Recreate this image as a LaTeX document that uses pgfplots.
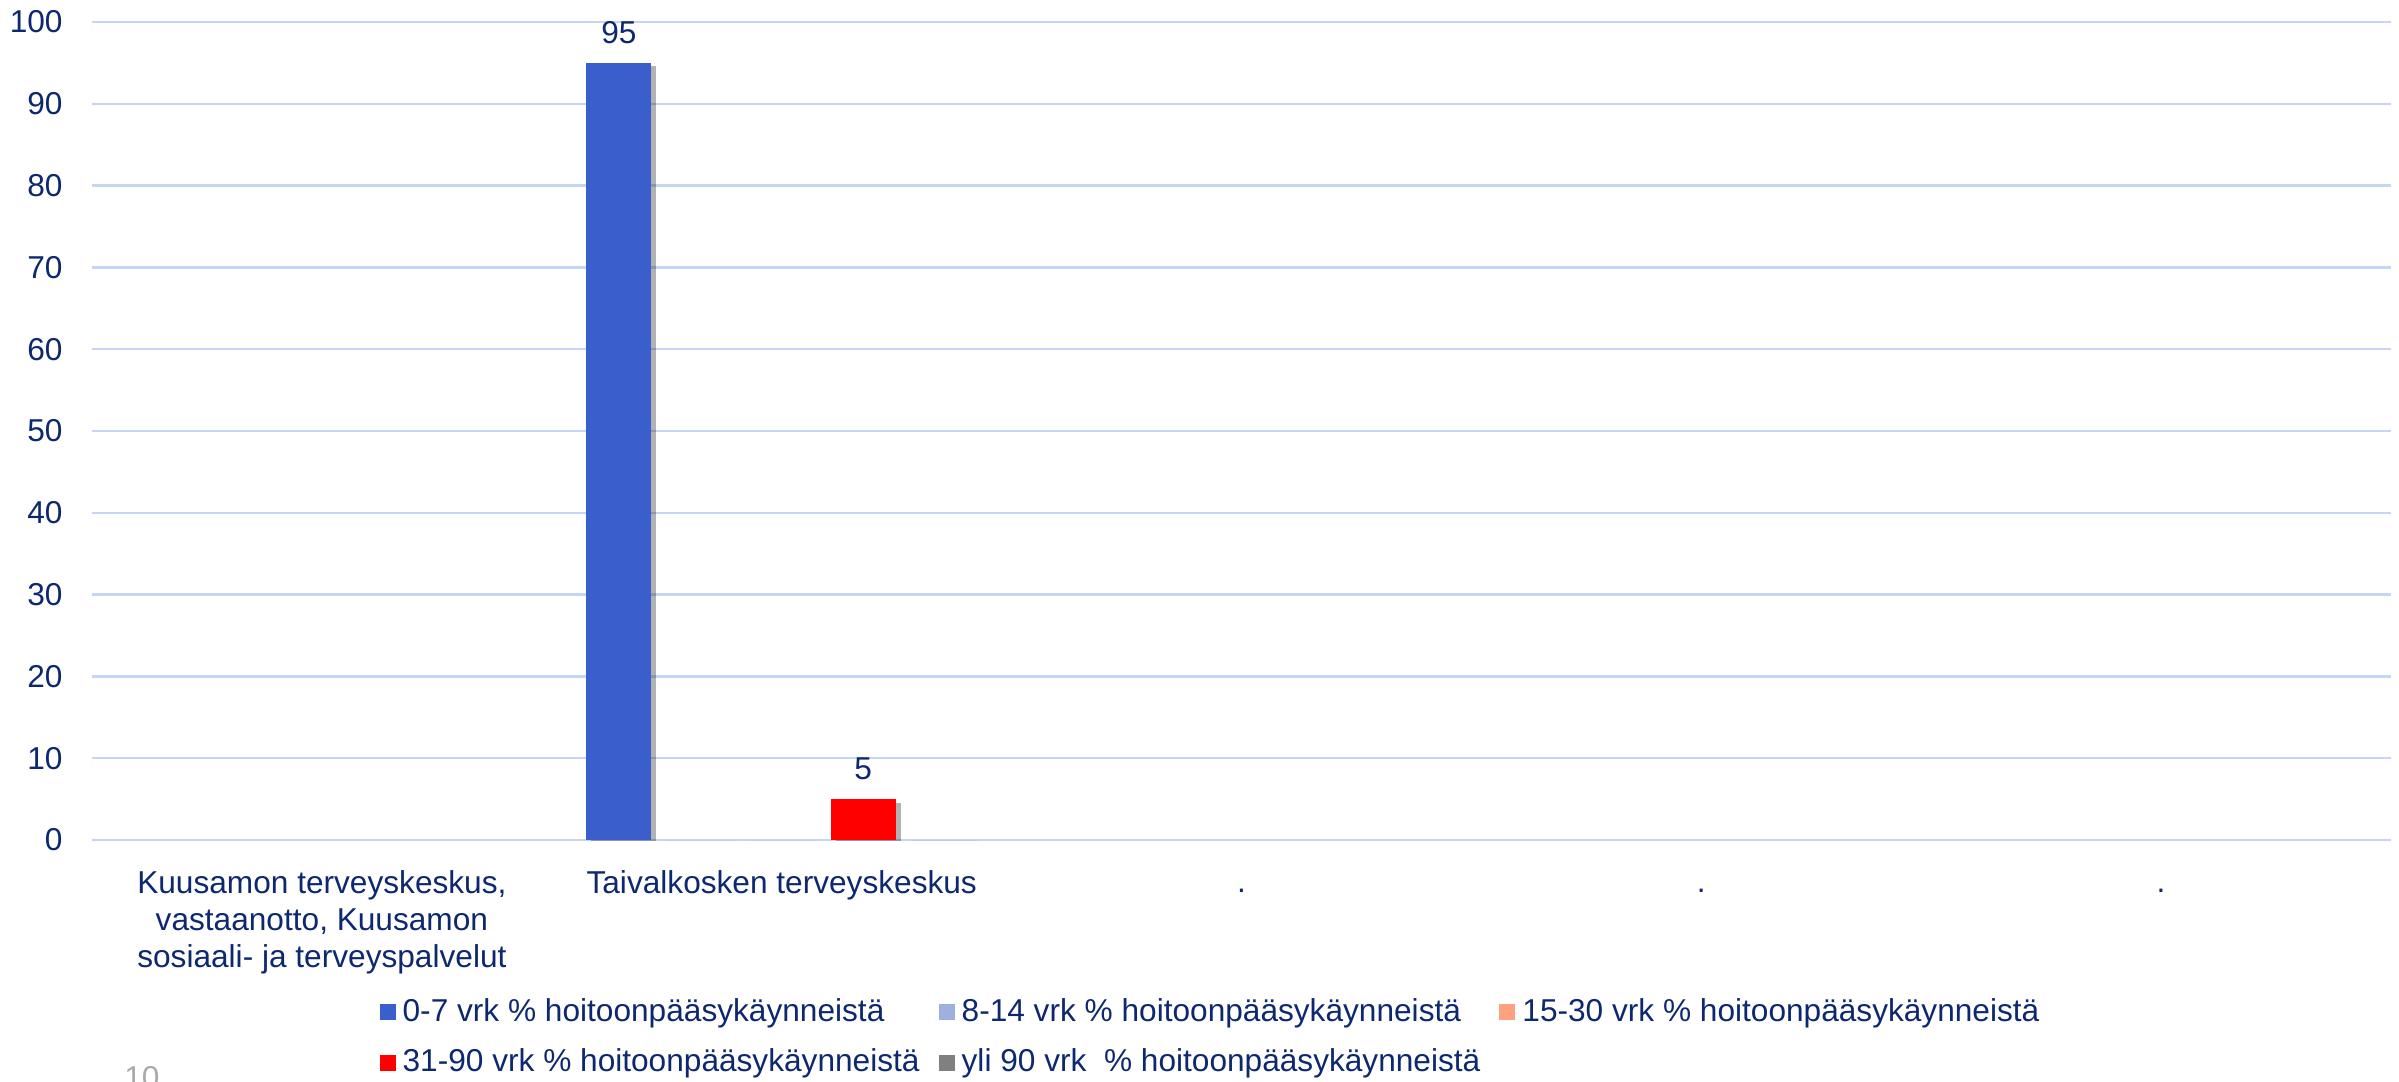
\documentclass[border=0pt]{standalone}
\usepackage{fontspec}
\setmainfont{Liberation Sans}
\usepackage{pgfplots}
\pgfplotsset{compat=1.18}
\usetikzlibrary{shadows}

\definecolor{txt}{RGB}{14,40,112}
\definecolor{gridc}{RGB}{198,213,244}
\definecolor{c1}{RGB}{58,95,205}
\definecolor{c2}{RGB}{158,176,224}
\definecolor{c3}{RGB}{255,160,128}
\definecolor{c4}{RGB}{255,0,0}
\definecolor{c5}{RGB}{128,128,128}
\definecolor{pg}{RGB}{170,170,170}

\tikzset{no preactions/.code={\expandafter\let\csname tikz@preactions\endcsname\relax\expandafter\def\csname tikz@preactions\endcsname{}}}

\begin{document}
\begin{tikzpicture}[font=\fontsize{9}{10.5}\selectfont]
\useasboundingbox (0,0) rectangle (23.99cm,10.81cm);
\begin{axis}[
  at={(0.92cm,2.41cm)}, anchor=south west,
  scale only axis, width=22.99cm, height=8.18cm,
  ybar=1.64mm, bar width=6.5mm,
  xmin=-0.5, xmax=4.5, ymin=0, ymax=100,
  xtick={0,...,4},
  xticklabels={{Kuusamon terveyskeskus,\\vastaanotto, Kuusamon\\sosiaali- ja terveyspalvelut},
    Taivalkosken terveyskeskus,\vphantom{Ky}.,\vphantom{Ky}.,\vphantom{Ky}.},
  xticklabel style={align=center, text=txt, yshift=-1.8mm},
  ytick={0,10,...,100},
  yticklabel style={text=txt, xshift=-1.7mm},
  /pgf/number format/assume math mode=true,
  ymajorgrids, grid style={gridc, line width=0.7pt},
  axis line style={draw=none}, major tick length=0pt, tick style={draw=none},
  legend style={draw=none, fill=none, at={(axis description cs:0.1248,-0.184)},
    anchor=north west, text=txt, inner sep=0pt, row sep=0.8mm,
    /tikz/every even column/.append style={column sep=1.2mm}},
  legend columns=3, legend cell align=left,
  legend image code/.code={\fill[#1,draw=none,no preactions] (0mm,-0.8mm) rectangle (1.6mm,0.8mm);},
  nodes near coords style={text=txt, yshift=2pt},
  bar shadow/.style={drop shadow={shadow xshift=0.5mm, shadow yshift=-0.35mm, opacity=0.3, fill=black}},
]
% 0-7 vrk
\addplot[fill=c1, draw=none, bar shadow, nodes near coords] coordinates {(1,95)};
\addlegendentry{0-7 vrk \% hoitoonpääsykäynneistä}
% 8-14 vrk
\addplot[fill=c2, draw=none] coordinates {(1,0)};
\addlegendentry{8-14 vrk \% hoitoonpääsykäynneistä}
% 15-30 vrk
\addplot[fill=c3, draw=none] coordinates {(1,0)};
\addlegendentry{15-30 vrk \% hoitoonpääsykäynneistä}
% 31-90 vrk
\addplot[fill=c4, draw=none, bar shadow, nodes near coords] coordinates {(1,5)};
\addlegendentry{31-90 vrk \% hoitoonpääsykäynneistä}
% yli 90 vrk
\addplot[fill=c5, draw=none] coordinates {(1,0)};
\addlegendentry{yli 90 vrk\ \ \% hoitoonpääsykäynneistä}
\end{axis}
\node[anchor=north, text=pg, inner sep=0pt] at (1.42cm,0.15cm) {10};
\end{tikzpicture}
\end{document}
